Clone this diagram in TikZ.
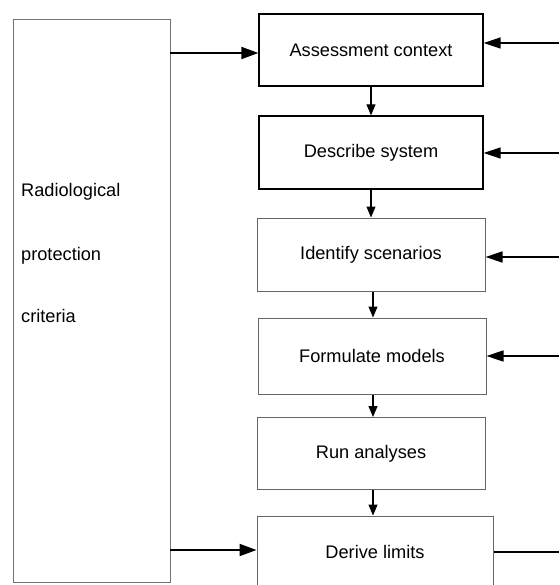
\documentclass[tikz,border=0pt]{standalone}
\usepackage{fontspec}
\setmainfont{Liberation Sans}
\usetikzlibrary{arrows.meta}
\tikzset{
  boxdark/.style={draw=black, line width=1.3pt, minimum width=224pt, minimum height=72pt, inner sep=0pt, font=\fontsize{18.2}{22}\selectfont},
  boxlight/.style={draw=black!60, line width=1pt, minimum height=72pt, inner sep=0pt, font=\fontsize{18.2}{22}\selectfont},
  bigarrow/.style={line width=2pt, -{Triangle[length=17pt,width=12pt]}},
  sidearrow/.style={line width=1.6pt, -{Triangle[length=17pt,width=11pt]}},
  downarrow/.style={line width=1.1pt, -{Triangle[length=11pt,width=9pt]}},
  lbl/.style={anchor=west, inner sep=0pt, font=\fontsize{18.2}{22}\selectfont}
}
\begin{document}
\begin{tikzpicture}[x=1pt,y=-1pt]
\useasboundingbox (0,0) rectangle (559,585);
\clip (0,0) rectangle (559,585);
% left box
\node[draw=black!55, line width=1pt, minimum width=157pt, minimum height=562pt, inner sep=0pt] (lb) at (91.5,301) {};
\node[lbl] (t1) at (21,192) {Radiological};
\node[lbl] (t2) at (21,256) {protection};
\node[lbl] (t3) at (21,316) {criteria};
% process boxes
\node[boxdark] (b1) at (371,50) {Assessment context};
\node[boxdark, minimum height=73pt] (b2) at (371,152.5) {Describe system};
\node[boxlight, minimum width=228pt, minimum height=73pt] (b3) at (371,254.5) {Identify scenarios};
\node[boxlight, minimum width=228pt, minimum height=76pt] (b4) at (372,356) {Formulate models};
\node[boxlight, minimum width=228pt] (b5) at (371,453.5) {Run analyses};
\node[boxlight, minimum width=236pt] (b6) at (375,552) {Derive limits};
% down arrows
\draw[downarrow] (b1.south) -- (b2.north);
\draw[downarrow] (b2.south) -- (b3.north);
\draw[downarrow] (b3.south -| 373,0) -- (b4.north -| 373,0);
\draw[downarrow] (b4.south -| 373,0) -- (b5.north -| 373,0);
\draw[downarrow] (b5.south -| 373,0) -- (b6.north -| 373,0);
% left arrows
\coordinate (la1) at (170,53);
\coordinate (la2) at (170,550);
\draw[bigarrow] (la1) -- (la1 -| b1.west);
\draw[bigarrow] (la2) -- (la2 -| b6.west);
% right arrows
\coordinate (r1) at (559,43);
\coordinate (r2) at (559,153);
\coordinate (r3) at (559,257);
\coordinate (r4) at (559,356);
\coordinate (r6) at (559,552);
\draw[sidearrow] (r1) -- (r1 -| b1.east);
\draw[sidearrow] (r2) -- (r2 -| b2.east);
\draw[sidearrow] (r3) -- (r3 -| b3.east);
\draw[sidearrow] (r4) -- (r4 -| b4.east);
\draw[line width=1.6pt] (b6.east) -- (r6);
\end{tikzpicture}
\end{document}
